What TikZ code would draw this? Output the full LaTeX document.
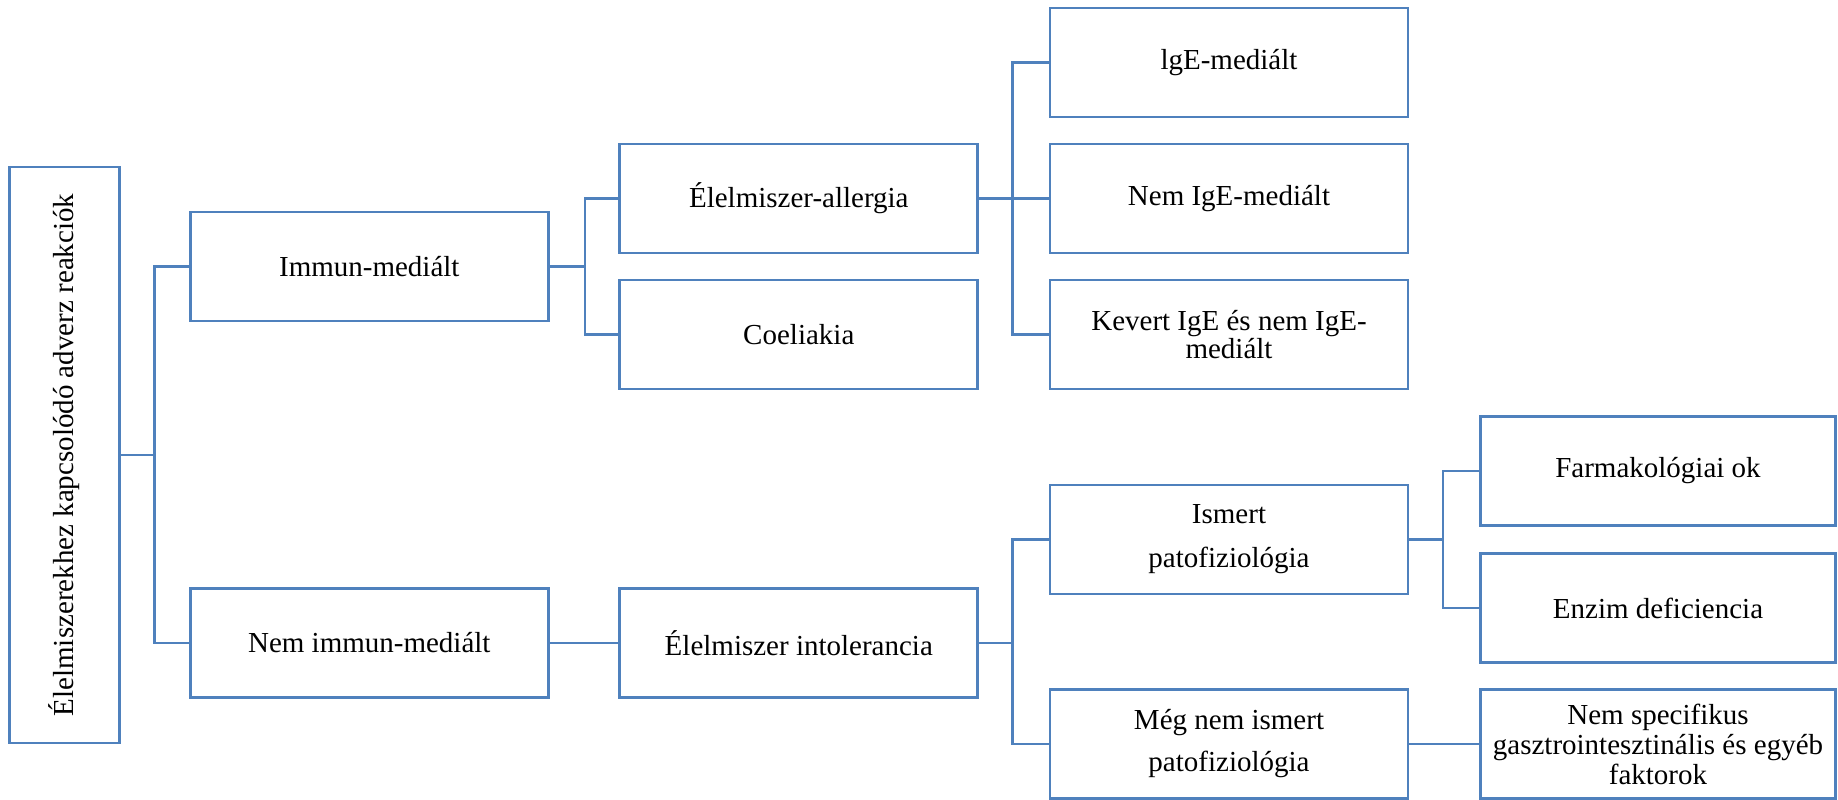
\documentclass[tikz,border=0pt]{standalone}
\usepackage{fontspec}
\setmainfont{Liberation Serif}
\definecolor{boxblue}{RGB}{79,129,189}
\begin{document}
\begin{tikzpicture}[x=0.5pt,y=-0.5pt,
  box/.style={draw=boxblue,line width=1.4pt,fill=white,minimum width=179pt,minimum height=54.5pt,align=center,inner sep=2pt,font=\fontsize{14.5}{15}\selectfont},
  conn/.style={draw=boxblue,line width=1.4pt}]
\useasboundingbox (0,0) rectangle (1838,799);
% root
\node[draw=boxblue,line width=1.4pt,minimum width=55pt,minimum height=288pt,inner sep=0pt] (root) at (64.5,455) {};
\node[rotate=90,font=\fontsize{14.5}{15}\selectfont] (roottext) at (root.center) {Élelmiszerekhez kapcsolódó adverz reakciók};
% column 1
\node[box] (imm) at (369.3,266.5) {Immun-mediált};
\node[box] (nimm) at (369.3,643) {Nem immun-mediált};
% column 2
\node[box] (allg) at (798.8,198.5) {Élelmiszer-allergia};
\node[box] (coel) at (798.8,334.5) {Coeliakia};
\node[box] (intol) at (798.8,643) {Élelmiszer intolerancia};
% column 3
\node[box] (ige) at (1229,62.5) {lgE-mediált};
\node[box] (nige) at (1229,198.5) {Nem IgE-mediált};
\node[box] (kev) at (1229,334.5) {Kevert IgE és nem IgE-\\[-1pt]mediált};
\node[box] (ism) at (1229,539.5) {Ismert\\[7pt]patofiziológia};
\node[box] (meg) at (1229,744) {Még nem ismert\\[6pt]patofiziológia};
% column 4
\node[box,minimum width=177.5pt] (farm) at (1658,471) {Farmakológiai ok};
\node[box,minimum width=177.5pt] (enz) at (1658,608) {Enzim deficiencia};
\node[box,minimum width=177.5pt] (nspec) at (1658,744) {Nem specifikus\\gasztrointesztinális és egyéb\\faktorok};
% trunk coordinates
\coordinate (j1) at (154.7,0);
\coordinate (j2) at (585,0);
\coordinate (j3) at (1012.7,0);
\coordinate (j4) at (1443,0);
% connectors
\draw[conn] (root.east) -- (root.east -| j1) |- (imm.west);
\draw[conn] (root.east -| j1) |- (nimm.west);
\draw[conn] (imm.east) -- (imm.east -| j2) |- (allg.west);
\draw[conn] (imm.east -| j2) |- (coel.west);
\draw[conn] (allg.east) -- (allg.east -| j3) |- (ige.west);
\draw[conn] (allg.east -| j3) |- (kev.west);
\draw[conn] (allg.east -| j3) -- (nige.west);
\draw[conn] (nimm.east) -- (intol.west);
\draw[conn] (intol.east) -- (intol.east -| j3) |- (ism.west);
\draw[conn] (intol.east -| j3) |- (meg.west);
\draw[conn] (ism.east) -- (ism.east -| j4) |- (farm.west);
\draw[conn] (ism.east -| j4) |- (enz.west);
\draw[conn] (meg.east) -- (nspec.west);
\end{tikzpicture}
\end{document}
